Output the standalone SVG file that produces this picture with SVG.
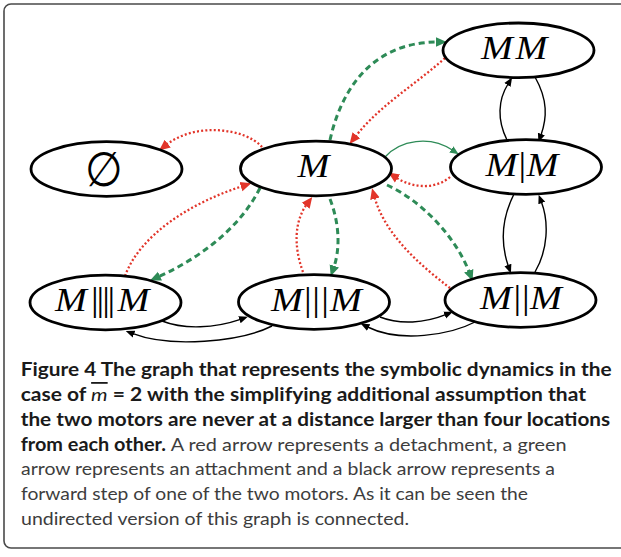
<svg xmlns="http://www.w3.org/2000/svg" width="621" height="557" viewBox="0 0 621 557">
<style>
.node ellipse{fill:#fff;stroke:#000;stroke-width:2.8}
.lbl{font-family:"Liberation Serif",serif;font-size:33px;fill:#000}
.it{font-style:italic}
.red{fill:none;stroke:#e2352a;stroke-width:2.3;stroke-dasharray:2 2.2}
.grn{fill:none;stroke:#2e8b57;stroke-width:3;stroke-dasharray:6 4}
.gthin{fill:none;stroke:#2e8b57;stroke-width:1.3}
.blk{fill:none;stroke:#000;stroke-width:1.4}
.cap{font-family:Lato,"Open Sans",sans-serif;font-size:18px}
.b{font-weight:bold;fill:#1a1a1a}
.r{fill:#3d3d3d;font-weight:normal}
.empty{font-family:"Liberation Serif","DejaVu Serif",serif;font-size:48px;fill:#000}
</style>
<defs>
<marker id="ar" markerUnits="userSpaceOnUse" markerWidth="12" markerHeight="12" viewBox="0 -5 11 10" refX="2" refY="0" orient="auto"><path d="M0,-4.5 L10,0 L0,4.5 Z" fill="#e2352a"/></marker>
<marker id="ag" markerUnits="userSpaceOnUse" markerWidth="12" markerHeight="12" viewBox="0 -5 11 10" refX="2" refY="0" orient="auto"><path d="M0,-4.5 L10,0 L0,4.5 Z" fill="#2e8b57"/></marker>
<marker id="agt" markerUnits="userSpaceOnUse" markerWidth="10" markerHeight="10" viewBox="0 -4 9 8" refX="1.5" refY="0" orient="auto"><path d="M0,-3.3 L8,0 L0,3.3 Z" fill="#2e8b57"/></marker>
<marker id="ak" markerUnits="userSpaceOnUse" markerWidth="10" markerHeight="10" viewBox="0 -4 9 8" refX="1" refY="0" orient="auto"><path d="M0,-3.3 L8,0 L0,3.3 Z" fill="#000"/></marker>
</defs>
<rect x="4" y="4" width="640" height="544" rx="7" fill="#fff" stroke="#4a4a4a" stroke-width="1.6"/>

<g id="edges">
<path class="grn" d="M330,140 C340,95 368,42 438,42" marker-end="url(#ag)"/>
<path class="red" d="M445,58 C415,85 380,105 355,137" marker-end="url(#ar)"/>
<path class="red" d="M262,147 C245,128 195,122 166,145" marker-end="url(#ar)"/>
<path class="gthin" d="M385,157 C400,140 430,135 452.7,150.3" marker-end="url(#agt)"/>
<path class="red" d="M450,177 C435,190 412,188 395.7,177.3" marker-end="url(#ar)"/>
<path class="red" d="M125,276 C140,235 190,203 243,186" marker-end="url(#ar)"/>
<path class="grn" d="M260,188 C240,228 200,258 158,277" marker-end="url(#ag)"/>
<path class="red" d="M303,272 C293,245 295,220 307,204" marker-end="url(#ar)"/>
<path class="grn" d="M330,199 C340,225 340,250 333.6,268" marker-end="url(#ag)"/>
<path class="red" d="M450,288 C420,265 385,235 374.4,196.6" marker-end="url(#ar)"/>
<path class="grn" d="M387,185 C420,200 455,235 469.5,272.8" marker-end="url(#ag)"/>
<path class="blk" d="M535,77 C548,100 547,118 541,135" marker-end="url(#ak)"/>
<path class="blk" d="M507,140 C497,120 498,100 508,84" marker-end="url(#ak)"/>
<path class="blk" d="M514,194 C501,220 501,245 508.3,266" marker-end="url(#ak)"/>
<path class="blk" d="M535,272 C548,250 549,222 541.4,202" marker-end="url(#ak)"/>
<path class="blk" d="M162,321 C185,330 215,328 240.5,319.3" marker-end="url(#ak)"/>
<path class="blk" d="M272,326 C240,342 170,348 133,333.7" marker-end="url(#ak)"/>
<path class="blk" d="M380,317 C400,325 425,323 445.7,314.7" marker-end="url(#ak)"/>
<path class="blk" d="M475,322 C450,335 400,343 367.6,327" marker-end="url(#ak)"/>
</g>

<g id="n-empty" class="node"><ellipse cx="106.5" cy="169" rx="75.5" ry="27.3"/><text class="empty" transform="translate(104,0) scale(0.9,1)" x="0" y="186" text-anchor="middle">∅</text></g>
<g id="n-M" class="node"><ellipse cx="316" cy="168.5" rx="75.5" ry="27.3"/><text class="lbl it" transform="scale(1.16,1)" x="256.55" y="177">M</text></g>
<g id="n-MM" class="node"><ellipse cx="518.5" cy="50.3" rx="75.5" ry="27.3"/><text class="lbl it" transform="scale(1.16,1)" x="414.66 444.48" y="59">MM</text></g>
<g id="n-M1M" class="node"><ellipse cx="526" cy="167" rx="75.5" ry="27.3"/><text class="lbl" transform="scale(1.16,1)" y="176"><tspan class="it" x="418.62">M</tspan><tspan x="446.98">|</tspan><tspan class="it" x="453.97">M</tspan></text></g>
<g id="n-M4M" class="node"><ellipse cx="105.5" cy="302.5" rx="75.5" ry="27.3"/><text class="lbl" transform="scale(1.16,1)" y="311.5"><tspan class="it" x="47.41">M</tspan><tspan x="78.36 83.19 88.1 92.67">||||</tspan><tspan class="it" x="101.3">M</tspan></text></g>
<g id="n-M3M" class="node"><ellipse cx="314" cy="302" rx="75.5" ry="27.3"/><text class="lbl" transform="scale(1.16,1)" y="311"><tspan class="it" x="233.62">M</tspan><tspan x="261.98 269.14 276.9">|||</tspan><tspan class="it" x="284.48">M</tspan></text></g>
<g id="n-M2M" class="node"><ellipse cx="520.5" cy="300" rx="75.5" ry="27.3"/><text class="lbl" transform="scale(1.16,1)" y="309"><tspan class="it" x="413.79">M</tspan><tspan x="442.67 449.91">||</tspan><tspan class="it" x="456.9">M</tspan></text></g>

<g id="caption" class="cap">
<text class="b" x="20.7" y="376" textLength="591" lengthAdjust="spacingAndGlyphs">Figure 4 The graph that represents the symbolic dynamics in the</text>
<text class="b" x="20.7" y="401" textLength="565.3" lengthAdjust="spacingAndGlyphs">case of <tspan font-style="italic" font-weight="normal" text-decoration="overline">m</tspan> = 2 with the simplifying additional assumption that</text>
<text class="b" x="20.7" y="425.8" textLength="589.5" lengthAdjust="spacingAndGlyphs">the two motors are never at a distance larger than four locations</text>
<text class="b" x="20.7" y="450.6" textLength="546" lengthAdjust="spacingAndGlyphs">from each other. <tspan class="r">A red arrow represents a detachment, a green</tspan></text>
<text class="r" x="21" y="475.4" textLength="534" lengthAdjust="spacingAndGlyphs">arrow represents an attachment and a black arrow represents a</text>
<text class="r" x="21" y="500.2" textLength="507" lengthAdjust="spacingAndGlyphs">forward step of one of the two motors. As it can be seen the</text>
<text class="r" x="21" y="525" textLength="388" lengthAdjust="spacingAndGlyphs">undirected version of this graph is connected.</text>
</g>
</svg>
